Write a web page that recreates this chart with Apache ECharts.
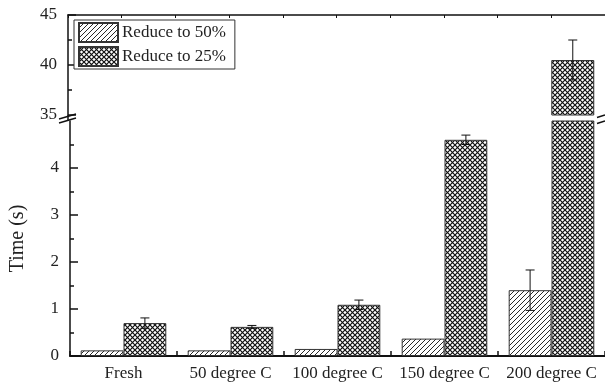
<!DOCTYPE html>
<html>
<head>
<meta charset="utf-8">
<script src="https://cdn.jsdelivr.net/npm/echarts@6/dist/echarts.min.js"></script>
<style>
html, body { margin:0; padding:0; background:#fff; }
#main { width:605px; height:388px; }
</style>
</head>
<body>
<div id="main"></div>
<script>
var categories = ['Fresh', '50 degree C', '100 degree C', '150 degree C', '200 degree C'];
var reduce50 = [0.12, 0.12, 0.15, 0.37, 1.40];
var reduce50Err = [0, 0, 0, 0, 0.43];
var reduce25 = [0.70, 0.62, 1.09, 4.60, 40.5];
var reduce25Err = [0.11, 0.03, 0.10, 0.10, 2.0];
var lowTicks = [0, 1, 2, 3, 4];

// 坐标区布局
var L = 68, W = 537;
var upTop = 15, upH = 100;
var lowTop = 121, lowH = 235;
var FONT = 'Liberation Serif';
var INK = '#222';

// 斜线填充
function hatchPattern()
{
	var c = document.createElement('canvas');
	c.width = 5; c.height = 5;
	var g = c.getContext('2d');
	g.fillStyle = '#fff';
	g.fillRect(0, 0, 5, 5);
	g.strokeStyle = '#111';
	g.lineWidth = 0.9;
	g.beginPath();
	g.moveTo(0, 5); g.lineTo(5, 0);
	g.moveTo(-1, 1); g.lineTo(1, -1);
	g.moveTo(4, 6); g.lineTo(6, 4);
	g.stroke();
	return c;
}

// 网格填充
function crossPattern()
{
	var c = document.createElement('canvas');
	c.width = 5; c.height = 5;
	var g = c.getContext('2d');
	g.fillStyle = '#fff';
	g.fillRect(0, 0, 5, 5);
	g.strokeStyle = '#111';
	g.lineWidth = 1.2;
	g.beginPath();
	g.moveTo(0, 0); g.lineTo(5, 5);
	g.moveTo(0, 5); g.lineTo(5, 0);
	g.stroke();
	return c;
}

var hatchFill = { image: hatchPattern(), repeat: 'repeat' };
var crossFill = { image: crossPattern(), repeat: 'repeat' };

// 误差棒数据, 按坐标区范围筛选
function errData(vals, errs, side, lo, hi)
{
	var out = [];
	for (var i = 0; i < vals.length; i++) {
		if (errs[i] > 0 && vals[i] >= lo && vals[i] <= hi) {
			out.push([i, vals[i], errs[i], side]);
		}
	}
	return out;
}

function renderErr(params, api)
{
	var idx = api.value(0);
	var v = api.value(1);
	var e = api.value(2);
	var side = api.value(3);
	var band = api.size([1, 0])[0];
	var bw = band * 0.4;
	var c = api.coord([idx, v]);
	var x = c[0] + side * bw / 2;
	var top = api.coord([idx, v + e])[1];
	var bot = api.coord([idx, v - e])[1];
	var cap = 4.5;
	var st = { stroke: '#111', lineWidth: 1 };
	return {
		type: 'group',
		children: [
			{ type: 'line', shape: { x1: x, y1: top, x2: x, y2: bot }, style: st },
			{ type: 'line', shape: { x1: x - cap, y1: top, x2: x + cap, y2: top }, style: st },
			{ type: 'line', shape: { x1: x - cap, y1: bot, x2: x + cap, y2: bot }, style: st }
		]
	};
}

var chart = echarts.init(document.getElementById('main'), null, { renderer: 'canvas' });

var barStyle50 = { color: hatchFill, borderColor: '#333', borderWidth: 1 };
var barStyle25 = { color: crossFill, borderColor: '#333', borderWidth: 1 };

var breakStyle = { stroke: '#111', lineWidth: 1.5 };

var option = {
	backgroundColor: '#fff',
	animation: false,
	textStyle: { fontFamily: FONT, color: INK },
	grid: [
		{ left: L, top: upTop, width: W, height: upH },
		{ left: L, top: lowTop, width: W, height: lowH }
	],
	legend: {
		orient: 'vertical',
		left: 74,
		top: 20,
		itemWidth: 39,
		itemHeight: 19,
		itemGap: 3,
		padding: [2, 9, 2, 4],
		borderColor: '#333',
		borderWidth: 1,
		backgroundColor: '#fff',
		textStyle: { fontFamily: FONT, fontSize: 17, color: INK, padding: [0, 0, 0, -1], lineHeight: 19 },
		data: [
			{ name: 'Reduce to 50%', icon: 'rect' },
			{ name: 'Reduce to 25%', icon: 'rect' }
		]
	},
	xAxis: [
		{
			type: 'category', gridIndex: 0, data: categories, show: false
		},
		{
			type: 'value', gridIndex: 0, position: 'top', min: 0, max: 5, interval: 0.5,
			axisLine: { show: true, lineStyle: { color: '#111', width: 1.5 } },
			axisTick: { show: true, inside: true, length: 3, lineStyle: { color: '#111' } },
			axisLabel: { show: false },
			splitLine: { show: false }
		},
		{
			type: 'category', gridIndex: 1, data: categories,
			axisLine: { show: true, lineStyle: { color: '#111', width: 2 } },
			axisTick: { show: true, inside: true, length: 5, lineStyle: { color: '#111', width: 1.5 } },
			axisLabel: { fontFamily: FONT, fontSize: 17, color: INK, margin: 9, interval: 0 }
		}
	],
	yAxis: [
		{
			type: 'value', gridIndex: 0, min: 35, max: 45, interval: 5,
			axisLine: { show: true, lineStyle: { color: '#111', width: 1.5 } },
			axisTick: { show: true, inside: true, length: 8, lineStyle: { color: '#111', width: 1.5 } },
			minorTick: { show: true, splitNumber: 2, length: 4, lineStyle: { color: '#111', width: 1.5 } },
			axisLabel: { fontFamily: FONT, fontSize: 17, color: INK, margin: 11, showMinLabel: true, showMaxLabel: true },
			splitLine: { show: false }
		},
		{
			type: 'value', gridIndex: 1, min: 0, max: 5, interval: 1,
			name: 'Time (s)', nameLocation: 'middle', nameGap: 42,
			nameTextStyle: { fontFamily: FONT, fontSize: 20, color: INK },
			nameRotate: 90,
			axisLine: { show: true, lineStyle: { color: '#111', width: 1.5 } },
			axisTick: { show: true, inside: true, length: 8, lineStyle: { color: '#111', width: 1.5 }, customValues: lowTicks },
			minorTick: { show: true, splitNumber: 2, length: 4, lineStyle: { color: '#111', width: 1.5 } },
			axisLabel: { fontFamily: FONT, fontSize: 17, color: INK, margin: 11, customValues: lowTicks },
			splitLine: { show: false }
		}
	],
	series: [
		{
			name: 'Reduce to 50%', type: 'bar', xAxisIndex: 0, yAxisIndex: 0,
			data: reduce50, barGap: 0, barCategoryGap: '20%', clip: true, itemStyle: barStyle50
		},
		{
			name: 'Reduce to 25%', type: 'bar', xAxisIndex: 0, yAxisIndex: 0,
			data: reduce25, barGap: 0, barCategoryGap: '20%', clip: true, itemStyle: barStyle25
		},
		{
			name: 'Reduce to 50%', type: 'bar', xAxisIndex: 2, yAxisIndex: 1,
			data: reduce50, barGap: 0, barCategoryGap: '20%', clip: true, itemStyle: barStyle50
		},
		{
			name: 'Reduce to 25%', type: 'bar', xAxisIndex: 2, yAxisIndex: 1,
			data: reduce25, barGap: 0, barCategoryGap: '20%', clip: true, itemStyle: barStyle25
		},
		{
			type: 'custom', xAxisIndex: 2, yAxisIndex: 1, renderItem: renderErr, clip: true, z: 5,
			data: errData(reduce50, reduce50Err, -1, 0, 5).concat(errData(reduce25, reduce25Err, 1, 0, 5))
		},
		{
			type: 'custom', xAxisIndex: 0, yAxisIndex: 0, renderItem: renderErr, clip: true, z: 5,
			data: errData(reduce50, reduce50Err, -1, 35, 45).concat(errData(reduce25, reduce25Err, 1, 35, 45))
		}
	],
	graphic: [
		// 左侧断轴
		{ type: 'line', shape: { x1: L, y1: upTop + upH, x2: L, y2: lowTop }, style: { stroke: '#111', lineWidth: 1.5 } },
		{ type: 'line', shape: { x1: L - 9, y1: upTop + upH + 4, x2: L + 8, y2: upTop + upH - 1 }, style: breakStyle },
		{ type: 'line', shape: { x1: L - 9, y1: lowTop + 2, x2: L + 8, y2: lowTop - 3 }, style: breakStyle },
		// 右侧断轴
		{ type: 'line', shape: { x1: L + W - 8, y1: upTop + upH + 2.5, x2: L + W, y2: upTop + upH }, style: breakStyle },
		{ type: 'line', shape: { x1: L + W - 8, y1: lowTop + 2.5, x2: L + W, y2: lowTop }, style: breakStyle }
	]
};

chart.setOption(option);
</script>
</body>
</html>
